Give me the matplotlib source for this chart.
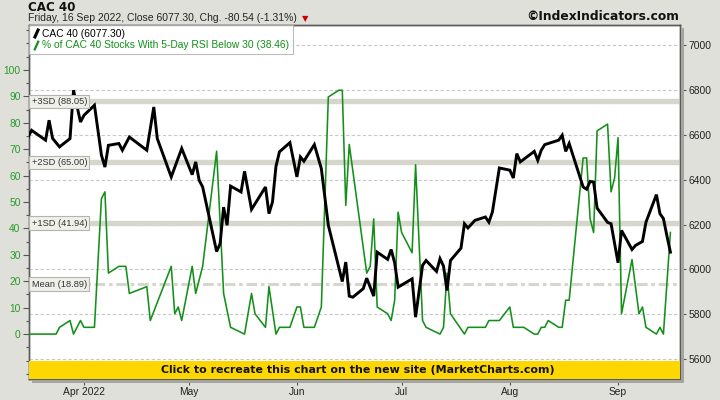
import matplotlib
matplotlib.use("Agg")
import matplotlib.pyplot as plt
import matplotlib.transforms as mtransforms
from matplotlib.lines import Line2D
from matplotlib.patches import Rectangle
from matplotlib.ticker import MultipleLocator, FixedLocator
import pandas as pd

# ---------------- data ----------------
cac_dates = ["2022-03-16","2022-03-17","2022-03-21","2022-03-22","2022-03-23","2022-03-25","2022-03-28",
             "2022-03-29","2022-03-31","2022-04-01","2022-04-04","2022-04-06","2022-04-07","2022-04-08",
             "2022-04-11","2022-04-12","2022-04-14","2022-04-19","2022-04-21","2022-04-22","2022-04-26",
             "2022-04-29","2022-05-02","2022-05-03","2022-05-04","2022-05-05","2022-05-09","2022-05-10",
             "2022-05-11","2022-05-12","2022-05-13","2022-05-16","2022-05-17","2022-05-19","2022-05-23",
             "2022-05-24","2022-05-25","2022-05-26","2022-05-27","2022-05-30","2022-06-01","2022-06-02",
             "2022-06-03","2022-06-06","2022-06-08","2022-06-10","2022-06-14","2022-06-15","2022-06-16",
             "2022-06-17","2022-06-20","2022-06-21","2022-06-23","2022-06-24","2022-06-27","2022-06-28",
             "2022-06-29","2022-06-30","2022-07-04","2022-07-05","2022-07-07","2022-07-08","2022-07-11",
             "2022-07-12","2022-07-13","2022-07-14","2022-07-15","2022-07-18","2022-07-19","2022-07-20",
             "2022-07-22","2022-07-25","2022-07-26","2022-07-27","2022-07-29","2022-08-01","2022-08-02",
             "2022-08-03","2022-08-04","2022-08-08","2022-08-09","2022-08-10","2022-08-11","2022-08-15",
             "2022-08-16","2022-08-17","2022-08-18","2022-08-22","2022-08-23","2022-08-24","2022-08-25",
             "2022-08-26","2022-08-29","2022-08-30","2022-09-01","2022-09-02","2022-09-05","2022-09-06",
             "2022-09-08","2022-09-09","2022-09-12","2022-09-13","2022-09-14","2022-09-15","2022-09-16"]
cac_values = [6591, 6621, 6577, 6666, 6585, 6547, 6584,
              6800, 6658, 6688, 6733, 6510, 6457, 6554,
              6562, 6532, 6591, 6532, 6725, 6584, 6413,
              6540, 6423, 6480, 6398, 6368, 6080, 6115,
              6278, 6197, 6372, 6346, 6438, 6268, 6368,
              6249, 6301, 6460, 6525, 6566, 6413, 6502,
              6483, 6557, 6450, 6197, 5946, 6033, 5881,
              5876, 5914, 5961, 5881, 6077, 6045, 6089,
              6030, 5921, 5958, 5787, 6018, 6040, 5991,
              6048, 6015, 5906, 6040, 6095, 6204, 6185,
              6219, 6234, 6211, 6256, 6453, 6443, 6408,
              6517, 6480, 6527, 6487, 6532, 6557, 6577,
              6599, 6527, 6562, 6368, 6358, 6393, 6390,
              6274, 6210, 6204, 6030, 6174, 6089, 6107,
              6125, 6211, 6334, 6249, 6227, 6150, 6077.30]

rsi_dates = ["2022-03-16","2022-03-24","2022-03-25","2022-03-28","2022-03-29","2022-03-31","2022-04-01",
             "2022-04-04","2022-04-06","2022-04-07","2022-04-08","2022-04-11","2022-04-13","2022-04-14",
             "2022-04-19","2022-04-20","2022-04-26","2022-04-27","2022-04-28","2022-04-29","2022-05-02",
             "2022-05-03","2022-05-05","2022-05-09","2022-05-11","2022-05-13","2022-05-17","2022-05-19",
             "2022-05-20","2022-05-23","2022-05-24","2022-05-26","2022-05-27","2022-05-30","2022-06-01",
             "2022-06-02","2022-06-03","2022-06-06","2022-06-08","2022-06-10","2022-06-13","2022-06-14",
             "2022-06-15","2022-06-16","2022-06-21","2022-06-22","2022-06-23","2022-06-24","2022-06-27",
             "2022-06-28","2022-06-29","2022-06-30","2022-07-01","2022-07-04","2022-07-05","2022-07-07",
             "2022-07-08","2022-07-12","2022-07-13","2022-07-14","2022-07-15","2022-07-19","2022-07-20",
             "2022-07-25","2022-07-26","2022-07-29","2022-08-01","2022-08-02","2022-08-05","2022-08-08",
             "2022-08-09","2022-08-10","2022-08-11","2022-08-12","2022-08-15","2022-08-16","2022-08-17",
             "2022-08-18","2022-08-22","2022-08-23","2022-08-24","2022-08-25","2022-08-26","2022-08-29",
             "2022-08-30","2022-08-31","2022-09-01","2022-09-02","2022-09-05","2022-09-07","2022-09-08",
             "2022-09-09","2022-09-12","2022-09-13","2022-09-14","2022-09-16"]
rsi_values = [0, 0, 2.56, 5.13, 0, 5.13, 2.56,
              2.56, 51.28, 53.85, 23.08, 25.64, 25.64, 15.38,
              17.95, 5.13, 25.64, 7.69, 10.26, 5.13, 25.64,
              15.38, 25.64, 69.23, 15.38, 2.56, 0, 15.38,
              7.69, 2.56, 17.95, 0, 2.56, 2.56, 10.26,
              10.26, 2.56, 2.56, 10.26, 89.74, 92.31, 92.31,
              48.72, 71.79, 23.08, 25.64, 43.59, 10.26, 7.69,
              5.13, 12.82, 46.15, 38.46, 30.77, 64.10, 5.13,
              2.56, 0, 2.56, 23.08, 7.69, 0, 2.56,
              2.56, 5.13, 5.13, 10.26, 2.56, 2.56, 0,
              0, 2.56, 2.56, 5.13, 2.56, 2.56, 12.82,
              12.82, 66.67, 66.67, 43.59, 38.46, 76.92, 79.49,
              53.85, 58.97, 74.36, 7.69, 28.21, 7.69, 10.26,
              2.56, 0, 2.56, 0, 38.46]

band_values = [88.05, 65.00, 41.94]
band_labels = ["+3SD (88.05)", "+2SD (65.00)", "+1SD (41.94)"]
mean_value = 18.89
mean_label = "Mean (18.89)"

month_ticks = ["2022-04-01", "2022-05-01", "2022-06-01", "2022-07-01", "2022-08-01", "2022-09-01"]
month_labels = ["Apr 2022", "May", "Jun", "Jul", "Aug", "Sep"]
left_ticks = list(range(0, 101, 10))
right_ticks = list(range(5600, 7001, 200))

cac_x = pd.to_datetime(cac_dates)
rsi_x = pd.to_datetime(rsi_dates)

# ---------------- style ----------------
GREEN = "#14901a"
GREEN_LBL = "#2a9a2a"
BG = "#e0e0da"
BAND = "#d6d6cc"
FONT = "Liberation Sans"

fig = plt.figure(figsize=(7.2, 4.0), dpi=100, facecolor=BG)
W, H = 720, 400
L, T, R, B = 29, 25, 680, 379
ax = fig.add_axes([L / W, 1 - B / H, (R - L) / W, (B - T) / H])
ax.set_facecolor("white")
ax2 = ax.twinx()

ax.set_ylim(-17.0, 117.0)
ax2.set_ylim(5511, 7091)
ax.set_xlim(pd.Timestamp("2022-03-16 06:00"), pd.Timestamp("2022-09-18 18:00"))

# grid on CAC axis
ax2.set_axisbelow(True)
ax2.grid(True, which="major", axis="both", color="#c8c8c8", linestyle=(0, (3, 2)), linewidth=0.8)

# SD bands and mean (left scale)
band_tr = mtransforms.blended_transform_factory(ax2.transAxes, ax.transData)
for v, lab in zip(band_values, band_labels):
    ax2.plot([0, 1], [v, v], transform=band_tr, color=BAND, lw=3.9, zorder=1.5, solid_capstyle="butt")
    ax2.text(0.004, v, lab, transform=band_tr, fontsize=6.7, family=FONT, color="#333333",
             va="center", ha="left", zorder=6,
             bbox=dict(boxstyle="square,pad=0.25", fc="#f0f0ea", ec="#b4b4ac", lw=0.8))
ax2.plot([0, 1], [mean_value, mean_value], transform=band_tr, color=BAND, lw=2.2,
         linestyle=(0, (3.5, 1.2, 1.2, 1.2)), zorder=1.5)
ax2.text(0.004, mean_value, mean_label, transform=band_tr, fontsize=6.7, family=FONT, color="#333333",
         va="center", ha="left", zorder=6,
         bbox=dict(boxstyle="square,pad=0.25", fc="#f0f0ea", ec="#b4b4ac", lw=0.8))

# lines
ax2.plot(rsi_x, rsi_values, transform=ax.transData, color=GREEN, lw=1.15, zorder=3)
ax2.plot(cac_x, cac_values, color="black", lw=2.1, zorder=4, solid_joinstyle="miter")

# ticks
ax.set_xticks(pd.to_datetime(month_ticks))
ax.set_xticklabels(month_labels)
ax.yaxis.set_major_locator(FixedLocator(left_ticks))
ax.yaxis.set_minor_locator(MultipleLocator(5))
ax2.yaxis.set_major_locator(FixedLocator(right_ticks))
ax2.yaxis.set_minor_locator(MultipleLocator(100))

ax.tick_params(axis="y", which="major", direction="out", length=4, width=0.8, color="#555555",
               labelcolor=GREEN_LBL, labelsize=7.4, pad=2)
ax.tick_params(axis="y", which="minor", direction="out", length=2, width=0.8, color="#555555")
ax.tick_params(axis="x", which="major", direction="out", length=4, width=0.8, color="#555555",
               labelcolor="#222222", labelsize=7.4, pad=2)
ax2.tick_params(axis="y", which="major", direction="out", length=4, width=0.8, color="#555555",
                labelcolor="#222222", labelsize=7.4, pad=2)
ax2.tick_params(axis="y", which="minor", direction="out", length=2, width=0.8, color="#555555")
for a in (ax, ax2):
    for lab in a.get_xticklabels() + a.get_yticklabels():
        lab.set_family(FONT)
    for s in a.spines.values():
        s.set_color("#5a5a5a")
        s.set_linewidth(1.0)

# legend
h1 = Line2D([], [], color="black", lw=0, marker=[(-0.45, -1), (0.45, 1)], markersize=7,
            markeredgewidth=2.2, markeredgecolor="black")
h2 = Line2D([], [], color=GREEN, lw=0, marker=[(-0.45, -1), (0.45, 1)], markersize=7,
            markeredgewidth=1.6, markeredgecolor=GREEN)
leg = ax2.legend([h1, h2], ["CAC 40 (6077.30)", "% of CAC 40 Stocks With 5-Day RSI Below 30 (38.46)"],
                 loc="upper left", bbox_to_anchor=(0, 1), borderaxespad=0, frameon=True, fancybox=False,
                 prop={"family": FONT, "size": 7.4}, handlelength=0.6, handletextpad=0.35,
                 labelspacing=0.15, borderpad=0.35)
leg.get_frame().set_edgecolor("#aaaaaa")
leg.get_frame().set_linewidth(0.8)
leg.set_zorder(7)
leg.get_texts()[0].set_color("black")
leg.get_texts()[1].set_color(GREEN)

# yellow banner
ax2.add_patch(Rectangle((0, 0), 1, (B - 361) / (B - T), transform=ax2.transAxes, fc="#FFD700",
                        ec="none", zorder=8))
ax2.text(0.505, (B - 370) / (B - T), "Click to recreate this chart on the new site (MarketCharts.com)",
         transform=ax2.transAxes, ha="center", va="center", fontsize=7.95, fontweight="bold",
         family="DejaVu Sans", color="#111111", zorder=9)

# frame shadow
fig.patches.append(Rectangle((681 / W, 1 - 383 / H), 3 / W, (383 - 28) / H, transform=fig.transFigure,
                             fc="#a4a4a0", ec="none"))
fig.patches.append(Rectangle((32 / W, 1 - 383 / H), (684 - 32) / W, 3 / H, transform=fig.transFigure,
                             fc="#a4a4a0", ec="none"))

# header texts
fig.text(28 / W, 1 - 11 / H, "CAC 40", fontsize=8.6, fontweight="bold", family="DejaVu Sans",
         color="#111111", va="baseline", ha="left")
fig.text(28 / W, 1 - 21 / H, "Friday, 16 Sep 2022, Close 6077.30, Chg. -80.54 (-1.31%)", fontsize=7.5,
         family=FONT, color="#222222", va="baseline", ha="left")
fig.text(305 / W, 1 - 21.5 / H, "\u25BC", fontsize=6, family="DejaVu Sans", color="#cc0000",
         va="baseline", ha="center")
fig.text(679 / W, 1 - 20.5 / H, "\u00A9IndexIndicators.com", fontsize=8.8, fontweight="bold",
         family="DejaVu Sans", color="#111111", va="baseline", ha="right")

fig.savefig("out.png", dpi=100, facecolor=BG)
